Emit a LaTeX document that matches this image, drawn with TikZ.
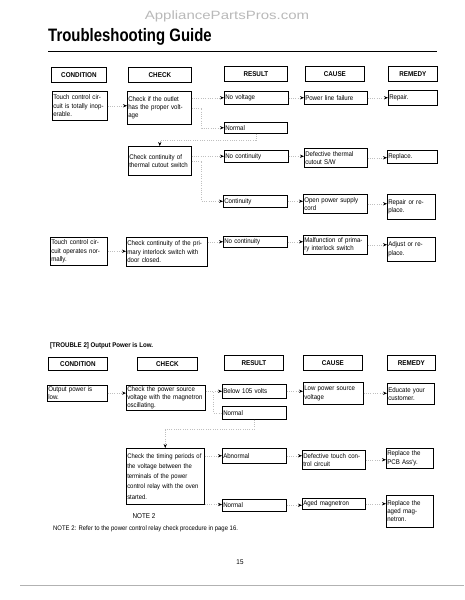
\documentclass[tikz,border=0pt]{standalone}
\usepackage{fontspec}
\setmainfont{Liberation Sans}
\newfontfamily\cellfam{Liberation Sans}[FakeStretch=0.9]
\newfontfamily\titlefam{Liberation Sans}[FakeStretch=0.83]
\newfontfamily\markfam{Liberation Sans}[FakeStretch=1.25]
\usetikzlibrary{arrows.meta}
\tikzset{
  cell/.style={draw, line width=0.5pt, anchor=north west, align=left, inner xsep=1pt, inner ysep=1.2pt,
    font=\cellfam\fontsize{6.8}{8.3}\selectfont},
  hdr/.style={draw, line width=0.8pt, anchor=north west, inner sep=0pt,
    font=\cellfam\bfseries\fontsize{7}{8}\selectfont},
  flow/.style={gray!50, dash pattern=on 1pt off 1.3pt, line width=0.5pt},
  flowto/.style={flow, -{Stealth[length=4pt,width=3.2pt,black]}},
}
\begin{document}
\begin{tikzpicture}[x=1pt,y=-1pt]
            \path[use as bounding box, fill=white] (0,0) rectangle (464,600);
                \node [text=gray!55, font=\markfam\fontsize{12}{14}\selectfont] (wm) at (227,16) {AppliancePartsPros.com};
                \node [anchor=base west, font=\titlefam\bfseries\fontsize{18}{20}\selectfont, inner sep=0pt] (title) at (48,41) {Troubleshooting Guide};
                \coordinate (rulel) at (48,51);
                \coordinate (ruler) at (437,51);
                \draw [line width=0.9pt] (rulel) -- (ruler);
                \node [hdr, minimum width=55pt, minimum height=15pt] (hcond) at (51,67) {CONDITION};
                \node [hdr, minimum width=63pt, minimum height=15pt] (hchk) at (128,67) {CHECK};
                \node [hdr, minimum width=63pt, minimum height=15pt] (hres) at (224,66) {RESULT};
                \node [hdr, minimum width=59pt, minimum height=15pt] (hcau) at (305,66) {CAUSE};
                \node [hdr, minimum width=49pt, minimum height=15pt] (hrem) at (388,66) {REMEDY};
                \node [cell, text width=53pt, minimum height=29pt] (cond1) at (52,91) {Touch control cir-\\cuit is totally inop-\\erable.};
                \node [cell, text width=62pt, minimum height=33pt] (chk1) at (127,91) {Check if the outlet\\has the proper volt-\\age};
                \node [cell, text width=62pt, minimum height=13pt] (nv) at (224,91) {No voltage};
                \node [cell, text width=61pt, minimum height=13pt] (plf) at (304,91) {Power line failure};
                \node [cell, text width=47pt, minimum height=15pt] (rep1) at (388,90) {Repair.};
                \node [cell, text width=61pt, minimum height=11pt] (norm1) at (224,122) {Normal};
                \node [cell, text width=61pt, minimum height=29pt] (chk2) at (128,146) {Check continuity of\\thermal cutout switch};
                \node [cell, text width=62pt, minimum height=12pt] (nc1) at (224,150) {No continuity};
                \node [cell, text width=61pt, minimum height=19pt] (dtc) at (304,148) {Defective thermal\\cutout S/W};
                \node [cell, text width=48pt, minimum height=13pt] (repl1) at (387,150) {Replace.};
                \node [cell, text width=62pt, minimum height=12pt] (cont1) at (223,195) {Continuity};
                \node [cell, text width=62pt, minimum height=19pt] (opsc) at (303,194) {Open power supply\\cord};
                \node [cell, text width=46pt, minimum height=25pt] (ror) at (387,194) {Repair or re-\\place.};
                \node [cell, text width=55pt, minimum height=28pt] (cond3) at (50,237) {Touch control cir-\\cuit operates nor-\\mally.};
                \node [cell, text width=79pt, minimum height=29pt] (chk3) at (126,237) {Check continuity of the pri-\\mary interlock switch with\\door closed.};
                \node [cell, text width=62pt, minimum height=11pt] (nc2) at (223,236) {No continuity};
                \node [cell, text width=62pt, minimum height=19pt] (mpis) at (303,235) {Malfunction of prima-\\ry interlock switch};
                \node [cell, text width=46pt, minimum height=24pt] (aor) at (387,237) {Adjust or re-\\place.};
                \draw [flowto] (cond1.east) -- (cond1.east -| chk1.west);
                \draw [flowto] (chk1.east |- nv.west) -- (nv.west);
                \draw [flowto] (chk1.east) -- ++(10,0) |- (norm1.west);
                \draw [flowto] (norm1.south) -- ++(0,7) -| (chk2.north);
                \draw [flowto] (nv) -- (plf);
                \draw [flowto] (plf) -- (rep1);
                \draw [flowto] (chk2.east |- nc1.west) -- (nc1.west);
                \draw [flowto] (chk2.east) -- ++(10,0) |- (cont1.west);
                \draw [flowto] (nc1.east) -- (nc1.east -| dtc.west);
                \draw [flowto] (dtc.east) -- (dtc.east -| repl1.west);
                \draw [flowto] (cont1.east) -- (cont1.east -| opsc.west);
                \draw [flowto] (opsc.east) -- (opsc.east -| ror.west);
                \draw [flowto] (cond3.east) -- (cond3.east -| chk3.west);
                \draw [flowto] (chk3.east |- nc2.west) -- (nc2.west);
                \draw [flowto] (nc2.east) -- (nc2.east -| mpis.west);
                \draw [flowto] (mpis.east) -- (mpis.east -| aor.west);
                \node [anchor=base west, inner sep=0pt, font=\cellfam\bfseries\fontsize{6.8}{8}\selectfont] (trouble) at (50,347) {[TROUBLE 2] Output Power is Low.};
                \node [hdr, minimum width=59pt, minimum height=13pt] (hcond2) at (48,357) {CONDITION};
                \node [hdr, minimum width=60pt, minimum height=13pt] (hchk2) at (137,357) {CHECK};
                \node [hdr, minimum width=59pt, minimum height=15pt] (hres2) at (224,355) {RESULT};
                \node [hdr, minimum width=59pt, minimum height=15pt] (hcau2) at (303,355) {CAUSE};
                \node [hdr, minimum width=48pt, minimum height=15pt] (hrem2) at (387,355) {REMEDY};
                \node [cell, text width=58pt, minimum height=13pt] (cond4) at (47,385) {Output power is\\low.};
                \node [cell, text width=77pt, minimum height=23pt] (chk4) at (126,385) {Check the power source\\voltage with the magnetron\\oscillating.};
                \node [cell, text width=62pt, minimum height=14pt] (b105) at (222,384) {Below 105 volts};
                \node [cell, text width=62pt, minimum height=13pt] (norm2) at (222,406) {Normal};
                \node [cell, text width=58pt, minimum height=22pt] (lps) at (303,382) {Low power source\\voltage};
                \node [cell, text width=45pt, minimum height=21pt] (edu) at (387,383) {Educate your\\customer.};
                \node [cell, text width=76pt, minimum height=56pt, font=\cellfam\fontsize{6.6}{10.3}\selectfont] (chk5) at (126,448) {Check the timing periods~of\\the voltage between the\\terminals of the power\\control relay with the oven\\started.};
                \node [cell, text width=62pt, minimum height=15pt] (abn) at (222,448) {Abnormal};
                \node [cell, text width=62pt, minimum height=12pt] (norm3) at (222,499) {Normal};
                \node [cell, text width=61pt, minimum height=19pt] (dtcc) at (302,450) {Defective touch con-\\trol circuit};
                \node [cell, text width=61pt, minimum height=11pt] (aged) at (302,498) {Aged magnetron};
                \node [cell, text width=45pt, minimum height=20pt] (rpcb) at (386,448) {Replace the\\PCB Ass'y.};
                \node [cell, text width=45pt, minimum height=32pt] (ram) at (386,495) {Replace the\\aged mag-\\netron.};
                \draw [flowto] (cond4.east) -- (cond4.east -| chk4.west);
                \draw [flowto] (chk4.east |- b105.west) -- (b105.west);
                \draw [flow] (chk4.east |- b105.west) -- ++(8,0) |- (norm2.west);
                \draw [flowto] (b105.east) -- (b105.east -| lps.west);
                \draw [flowto] (lps) -- (lps -| edu.west);
                \draw [flowto] (norm2.south) -- ++(0,10) -| (chk5.north);
                \draw [flowto] (chk5.east |- abn.west) -- (abn.west);
                \draw [flowto] (chk5.south east) -- (chk5.south east -| norm3.west);
                \draw [flowto] (abn.east) -- (abn.east -| dtcc.west);
                \draw [flowto] (dtcc.east) -- (dtcc.east -| rpcb.west);
                \draw [flowto] (norm3.east) -- (norm3.east -| aged.west);
                \draw [flowto] (aged.east) -- (aged.east -| ram.west);
                \node [font=\cellfam\fontsize{7}{8}\selectfont] (note) at (144,516) {NOTE 2};
                \node [anchor=west, inner sep=0pt, font=\cellfam\fontsize{6.6}{8}\selectfont] (notetext) at (53,529) {NOTE 2: Refer to the power control relay check procedure in page 16.};
                \node [font=\cellfam\fontsize{7}{8}\selectfont] (pageno) at (240,562) {15};
                \coordinate (footl) at (20,585);
                \coordinate (footr) at (464,585);
                \draw [gray!60, line width=0.6pt] (footl) -- (footr);
            \end{tikzpicture}
\end{document}
